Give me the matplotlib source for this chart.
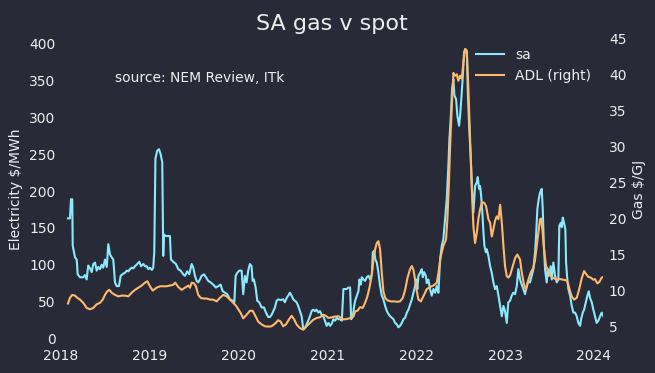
import pandas as pd
import matplotlib
matplotlib.use("Agg")
import matplotlib.pyplot as plt
import matplotlib.dates as mdates

# SA spot price ($/MWh), weekly-ish, time as decimal year
sa_year = [
    2018.079, 2018.101, 2018.113, 2018.127, 2018.132, 2018.158, 2018.177, 2018.188, 2018.214, 2018.251,
    2018.270, 2018.289, 2018.307, 2018.327, 2018.346, 2018.364, 2018.383, 2018.402, 2018.420, 2018.439,
    2018.458, 2018.476, 2018.495, 2018.515, 2018.533, 2018.552, 2018.571, 2018.589, 2018.608, 2018.627,
    2018.653, 2018.672, 2018.702, 2018.721, 2018.740, 2018.758, 2018.777, 2018.796, 2018.814, 2018.833,
    2018.859, 2018.882, 2018.901, 2018.927, 2018.946, 2018.965, 2018.983, 2019.002, 2019.025, 2019.039,
    2019.051, 2019.064, 2019.084, 2019.104, 2019.123, 2019.141, 2019.152, 2019.160, 2019.182, 2019.208,
    2019.227, 2019.239, 2019.265, 2019.295, 2019.321, 2019.348, 2019.377, 2019.396, 2019.422, 2019.445,
    2019.472, 2019.490, 2019.509, 2019.528, 2019.546, 2019.565, 2019.584, 2019.610, 2019.633, 2019.659,
    2019.686, 2019.715, 2019.745, 2019.771, 2019.798, 2019.821, 2019.847, 2019.873, 2019.903, 2019.934,
    2019.952, 2019.967, 2019.985, 2020.008, 2020.035, 2020.053, 2020.072, 2020.091, 2020.109, 2020.128,
    2020.147, 2020.159, 2020.173, 2020.193, 2020.211, 2020.233, 2020.260, 2020.286, 2020.309, 2020.334,
    2020.354, 2020.373, 2020.391, 2020.410, 2020.429, 2020.447, 2020.474, 2020.503, 2020.522, 2020.542,
    2020.560, 2020.579, 2020.598, 2020.616, 2020.635, 2020.654, 2020.672, 2020.691, 2020.711, 2020.729,
    2020.748, 2020.767, 2020.785, 2020.804, 2020.823, 2020.841, 2020.860, 2020.879, 2020.898, 2020.917,
    2020.936, 2020.954, 2020.973, 2020.992, 2021.010, 2021.029, 2021.048, 2021.066, 2021.086, 2021.105,
    2021.123, 2021.142, 2021.161, 2021.179, 2021.198, 2021.217, 2021.235, 2021.254, 2021.266, 2021.285,
    2021.300, 2021.311, 2021.330, 2021.348, 2021.359, 2021.375, 2021.386, 2021.404, 2021.423, 2021.442,
    2021.461, 2021.480, 2021.499, 2021.510, 2021.525, 2021.539, 2021.555, 2021.573, 2021.592, 2021.611,
    2021.629, 2021.649, 2021.668, 2021.686, 2021.705, 2021.724, 2021.742, 2021.761, 2021.780, 2021.798,
    2021.817, 2021.837, 2021.855, 2021.874, 2021.893, 2021.911, 2021.930, 2021.949, 2021.967, 2021.986,
    2021.998, 2022.012, 2022.024, 2022.043, 2022.062, 2022.073, 2022.088, 2022.107, 2022.118, 2022.136,
    2022.155, 2022.174, 2022.193, 2022.212, 2022.231, 2022.249, 2022.268, 2022.287, 2022.305, 2022.324,
    2022.343, 2022.361, 2022.373, 2022.389, 2022.403, 2022.418, 2022.429, 2022.448, 2022.463, 2022.482,
    2022.493, 2022.512, 2022.524, 2022.538, 2022.553, 2022.569, 2022.580, 2022.598, 2022.614, 2022.628,
    2022.643, 2022.662, 2022.681, 2022.692, 2022.707, 2022.718, 2022.730, 2022.744, 2022.756, 2022.767,
    2022.783, 2022.794, 2022.812, 2022.831, 2022.850, 2022.868, 2022.887, 2022.906, 2022.925, 2022.944,
    2022.963, 2022.981, 2023.000, 2023.019, 2023.037, 2023.056, 2023.075, 2023.093, 2023.113, 2023.132,
    2023.150, 2023.169, 2023.188, 2023.206, 2023.225, 2023.244, 2023.262, 2023.281, 2023.300, 2023.319,
    2023.338, 2023.349, 2023.364, 2023.379, 2023.394, 2023.413, 2023.424, 2023.436, 2023.450, 2023.469,
    2023.481, 2023.495, 2023.514, 2023.526, 2023.544, 2023.563, 2023.582, 2023.600, 2023.611, 2023.627,
    2023.638, 2023.650, 2023.664, 2023.679, 2023.687, 2023.701, 2023.713, 2023.732, 2023.751, 2023.769,
    2023.788, 2023.807, 2023.825, 2023.845, 2023.856, 2023.875, 2023.890, 2023.909, 2023.927, 2023.942,
    2023.957, 2023.976, 2023.994, 2024.013, 2024.032, 2024.051, 2024.070, 2024.089, 2024.107,
]
sa_price = [
    163, 163, 189, 189, 126, 110, 107, 87, 83, 83,
    86, 80, 99, 95, 90, 101, 103, 92, 97, 94,
    100, 96, 107, 97, 128, 114, 110, 107, 76, 71,
    71, 85, 88, 89, 92, 91, 94, 96, 95, 98,
    101, 104, 98, 101, 98, 98, 94, 96, 93, 96,
    117, 244, 255, 257, 250, 239, 112, 141, 139, 139,
    139, 107, 104, 101, 94, 92, 87, 85, 91, 87,
    101, 96, 85, 78, 76, 80, 85, 87, 83, 78,
    76, 73, 69, 71, 73, 64, 62, 60, 53, 51,
    49, 85, 89, 92, 92, 60, 85, 76, 92, 101,
    98, 78, 80, 69, 51, 49, 42, 42, 35, 29,
    29, 32, 37, 42, 51, 53, 52, 53, 49, 55,
    58, 62, 58, 53, 51, 49, 44, 37, 30, 12,
    14, 19, 24, 30, 37, 39, 37, 39, 35, 37,
    32, 30, 24, 17, 21, 17, 20, 26, 24, 28,
    26, 26, 24, 67, 67, 67, 69, 69, 26, 30,
    44, 51, 58, 64, 80, 73, 83, 80, 78, 83,
    85, 80, 87, 117, 119, 107, 103, 89, 71, 58,
    53, 44, 37, 33, 30, 28, 26, 21, 19, 15,
    17, 21, 26, 28, 35, 39, 46, 53, 62, 71,
    80, 67, 85, 89, 94, 83, 90, 85, 75, 80,
    67, 58, 67, 62, 71, 62, 107, 126, 135, 162,
    189, 234, 271, 302, 339, 352, 330, 325, 302, 289,
    302, 334, 357, 389, 393, 389, 334, 280, 244, 203,
    171, 207, 212, 219, 203, 207, 194, 171, 144, 126,
    117, 121, 112, 98, 89, 76, 67, 71, 58, 44,
    30, 44, 37, 21, 49, 51, 58, 62, 60, 71,
    94, 80, 73, 67, 60, 71, 78, 76, 85, 94,
    117, 139, 176, 189, 198, 203, 176, 130, 94, 76,
    94, 85, 98, 80, 103, 85, 76, 80, 153, 157,
    151, 164, 157, 148, 103, 80, 67, 58, 44, 35,
    35, 30, 21, 17, 26, 35, 39, 49, 58, 64,
    55, 49, 39, 30, 21, 24, 30, 35, 30,
]

# Adelaide gas price ($/GJ)
adl_year = [
    2018.079, 2018.101, 2018.127, 2018.158, 2018.184, 2018.214, 2018.251, 2018.289, 2018.327, 2018.364,
    2018.402, 2018.439, 2018.470, 2018.495, 2018.521, 2018.544, 2018.571, 2018.608, 2018.645, 2018.684,
    2018.721, 2018.758, 2018.796, 2018.833, 2018.870, 2018.909, 2018.946, 2018.972, 2019.002, 2019.033,
    2019.078, 2019.115, 2019.152, 2019.190, 2019.227, 2019.265, 2019.287, 2019.321, 2019.359, 2019.396,
    2019.434, 2019.453, 2019.472, 2019.498, 2019.520, 2019.546, 2019.573, 2019.602, 2019.641, 2019.678,
    2019.715, 2019.753, 2019.790, 2019.828, 2019.866, 2019.903, 2019.940, 2019.971, 2019.997, 2020.024,
    2020.053, 2020.080, 2020.109, 2020.128, 2020.159, 2020.185, 2020.222, 2020.260, 2020.297, 2020.334,
    2020.373, 2020.410, 2020.447, 2020.474, 2020.503, 2020.534, 2020.571, 2020.598, 2020.624, 2020.654,
    2020.691, 2020.729, 2020.767, 2020.804, 2020.841, 2020.879, 2020.917, 2020.954, 2020.984, 2021.010,
    2021.048, 2021.086, 2021.123, 2021.142, 2021.179, 2021.217, 2021.254, 2021.292, 2021.311, 2021.337,
    2021.367, 2021.397, 2021.423, 2021.449, 2021.472, 2021.499, 2021.517, 2021.536, 2021.555, 2021.573,
    2021.592, 2021.611, 2021.629, 2021.649, 2021.674, 2021.713, 2021.750, 2021.787, 2021.817, 2021.848,
    2021.874, 2021.900, 2021.930, 2021.949, 2021.967, 2021.986, 2022.006, 2022.024, 2022.051, 2022.080,
    2022.118, 2022.155, 2022.193, 2022.231, 2022.249, 2022.276, 2022.305, 2022.335, 2022.350, 2022.366,
    2022.381, 2022.400, 2022.418, 2022.437, 2022.456, 2022.474, 2022.493, 2022.512, 2022.530, 2022.549,
    2022.569, 2022.587, 2022.606, 2022.625, 2022.643, 2022.662, 2022.681, 2022.699, 2022.718, 2022.737,
    2022.763, 2022.786, 2022.812, 2022.831, 2022.850, 2022.868, 2022.887, 2022.906, 2022.925, 2022.944,
    2022.963, 2022.981, 2023.000, 2023.019, 2023.037, 2023.056, 2023.087, 2023.113, 2023.138, 2023.169,
    2023.188, 2023.214, 2023.236, 2023.262, 2023.289, 2023.319, 2023.338, 2023.357, 2023.375, 2023.394,
    2023.405, 2023.420, 2023.439, 2023.462, 2023.488, 2023.514, 2023.544, 2023.582, 2023.619, 2023.656,
    2023.695, 2023.713, 2023.732, 2023.751, 2023.777, 2023.807, 2023.833, 2023.864, 2023.890, 2023.912,
    2023.938, 2023.965, 2023.994, 2024.013, 2024.039, 2024.062, 2024.089, 2024.107,
]
adl_gas = [
    8.2, 9.0, 9.4, 9.3, 9.0, 8.75, 8.3, 7.6, 7.4, 7.6,
    8.1, 8.3, 8.75, 9.4, 9.9, 10.1, 9.7, 9.4, 9.2, 9.3,
    9.3, 9.2, 9.7, 10.1, 10.4, 10.7, 11.1, 11.3, 10.6, 10.0,
    10.4, 10.6, 10.6, 10.6, 10.7, 10.8, 11.1, 10.5, 10.1, 10.4,
    10.7, 10.4, 11.1, 11.0, 10.6, 9.4, 9.0, 8.9, 8.9, 8.75,
    8.75, 8.5, 9.0, 9.4, 9.2, 8.75, 8.3, 7.9, 7.4, 6.9,
    6.15, 6.5, 6.9, 7.2, 7.2, 6.6, 5.7, 5.3, 5.05, 5.0,
    5.05, 5.4, 5.9, 5.7, 5.05, 5.3, 6.05, 6.5, 6.05, 5.3,
    4.8, 4.6, 5.05, 5.5, 5.95, 6.2, 6.3, 6.65, 6.5, 6.2,
    6.3, 6.4, 6.45, 6.3, 6.0, 6.05, 6.2, 6.4, 7.1, 7.2,
    7.7, 7.6, 8.3, 9.2, 10.4, 12.2, 14.3, 15.7, 16.6, 16.85,
    15.7, 12.45, 9.9, 9.0, 8.65, 8.5, 8.5, 8.45, 8.5, 9.0,
    10.1, 11.75, 13.0, 13.4, 12.9, 11.5, 9.9, 8.75, 8.5, 9.2,
    10.2, 10.5, 10.7, 11.07, 12.45, 14.8, 16.2, 17.1, 19.9, 24.5,
    30.0, 35.6, 40.2, 39.8, 40.0, 39.1, 39.8, 39.4, 41.6, 43.5,
    43.3, 37.9, 31.0, 24.0, 18.9, 16.6, 18.0, 19.9, 21.25, 22.2,
    22.2, 21.7, 19.9, 19.4, 17.5, 18.5, 19.7, 20.3, 19.9, 21.9,
    19.4, 16.2, 13.4, 12.0, 11.8, 12.1, 13.4, 14.5, 15.0, 14.3,
    12.5, 10.8, 10.1, 11.5, 12.5, 13.15, 14.3, 16.15, 18.0, 19.9,
    20.0, 18.5, 15.7, 13.4, 12.7, 12.0, 11.75, 11.5, 11.6, 11.5,
    11.4, 10.8, 9.9, 9.2, 8.75, 9.0, 10.1, 11.75, 12.7, 12.3,
    11.9, 11.8, 11.5, 11.6, 11.0, 11.2, 11.8, 11.9,
]


def to_dates(years):
    return [pd.Timestamp(int(y), 1, 1) + pd.Timedelta(days=(y - int(y)) * 365.25) for y in years]


bg = "#282b37"
fg = "#eeeeee"
cyan = "#8be9fd"
orange = "#ffb86c"

fig = plt.figure(figsize=(6.55, 3.73), dpi=100, facecolor=bg)
ax = fig.add_axes([0.0931, 0.079, 0.9211 - 0.0931, 0.906 - 0.079], facecolor=bg)
ax2 = ax.twinx()

sa_dates = to_dates(sa_year)
adl_dates = to_dates(adl_year)

l1, = ax.plot(sa_dates, sa_price, color=cyan, lw=1.5, label="sa")
l2, = ax2.plot(adl_dates, adl_gas, color=orange, lw=1.5, label="ADL (right)")

ax.set_xlim(pd.Timestamp(2018, 1, 1), sa_dates[-1])
ax.xaxis.set_major_locator(mdates.YearLocator())
ax.xaxis.set_major_formatter(mdates.DateFormatter("%Y"))
ax.set_yticks(range(0, 401, 50))
ax2.set_yticks(range(5, 46, 5))

for a in (ax, ax2):
    for s in a.spines.values():
        s.set_visible(False)
    a.tick_params(colors=fg, length=0, pad=4, labelsize=10)

ax.set_ylabel("Electricity $/MWh", color=fg)
ax2.set_ylabel("Gas $/GJ", color=fg)
ax.set_title("SA gas v spot", color=fg, fontsize=16, pad=4)

ax.text(0.1, 0.86, "source: NEM Review, ITk", transform=ax.transAxes,
        color=fg, fontsize=10, va="center")

leg = ax2.legend([l1, l2], ["sa", "ADL (right)"], loc="upper right", frameon=False)
for t in leg.get_texts():
    t.set_color(fg)

fig.savefig("out.png", dpi=100, facecolor=bg)
